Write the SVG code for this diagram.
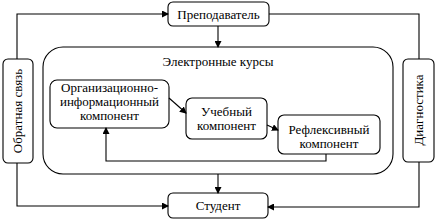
<svg xmlns="http://www.w3.org/2000/svg" width="437" height="221" viewBox="0 0 437 221">
<style>
.box{fill:#fff;stroke:#000;stroke-width:1.1}
.ln{fill:none;stroke:#000;stroke-width:1.1}
</style>
<defs>
<marker id="ah" markerWidth="7" markerHeight="7" refX="6" refY="3.5" orient="auto" markerUnits="userSpaceOnUse">
<path d="M0,0 L7,3.5 L0,7 Z" fill="#000"/>
</marker>
</defs>
<rect width="437" height="221" fill="#fff"/>
<g font-family="Liberation Serif, Times New Roman, serif" font-size="13" text-anchor="middle" fill="#000">
<g id="container">
<rect class="box" x="43" y="47" width="350" height="127" rx="20"/>
<text x="218" y="66">Электронные курсы</text>
</g>
<g id="teacher">
<rect class="box" x="168" y="2" width="101" height="24" rx="5"/>
<text x="218.5" y="18.5">Преподаватель</text>
</g>
<g id="student">
<rect class="box" x="168" y="193" width="100" height="25" rx="5"/>
<text x="218" y="210">Студент</text>
</g>
<g id="feedback">
<rect class="box" x="3" y="59" width="30" height="104" rx="5"/>
<text transform="translate(22,111) rotate(-90)">Обратная связь</text>
</g>
<g id="diagnostics">
<rect class="box" x="403" y="59" width="31" height="103" rx="5"/>
<text transform="translate(423,110) rotate(-90)">Диагностика</text>
</g>
<g id="org">
<rect class="box" x="50" y="80" width="119" height="48" rx="7"/>
<text x="109.5" y="92">Организационно-</text>
<text x="109.5" y="106">информационный</text>
<text x="109.5" y="120">компонент</text>
</g>
<g id="study">
<rect class="box" x="186" y="98" width="81" height="41" rx="6"/>
<text x="226.5" y="116">Учебный</text>
<text x="226.5" y="130">компонент</text>
</g>
<g id="reflex">
<rect class="box" x="278" y="115" width="102" height="39" rx="6"/>
<text x="329" y="134">Рефлексивный</text>
<text x="329" y="148">компонент</text>
</g>
</g>
<g id="connectors">
<path class="ln" d="M17,59 V14 H168" marker-end="url(#ah)"/>
<path class="ln" d="M269,14 H419 V59"/>
<path class="ln" d="M218,26 V47" marker-end="url(#ah)"/>
<path class="ln" d="M218,174 V193" marker-end="url(#ah)"/>
<path class="ln" d="M17,163 V206 H168" marker-end="url(#ah)"/>
<path class="ln" d="M419,162 V207 H268" marker-end="url(#ah)"/>
<path class="ln" d="M169,98 L186,113" marker-end="url(#ah)"/>
<path class="ln" d="M267,125 L278,130" marker-end="url(#ah)"/>
<path class="ln" d="M326,154 V161 H106 V128" marker-end="url(#ah)"/>
</g>
</svg>
